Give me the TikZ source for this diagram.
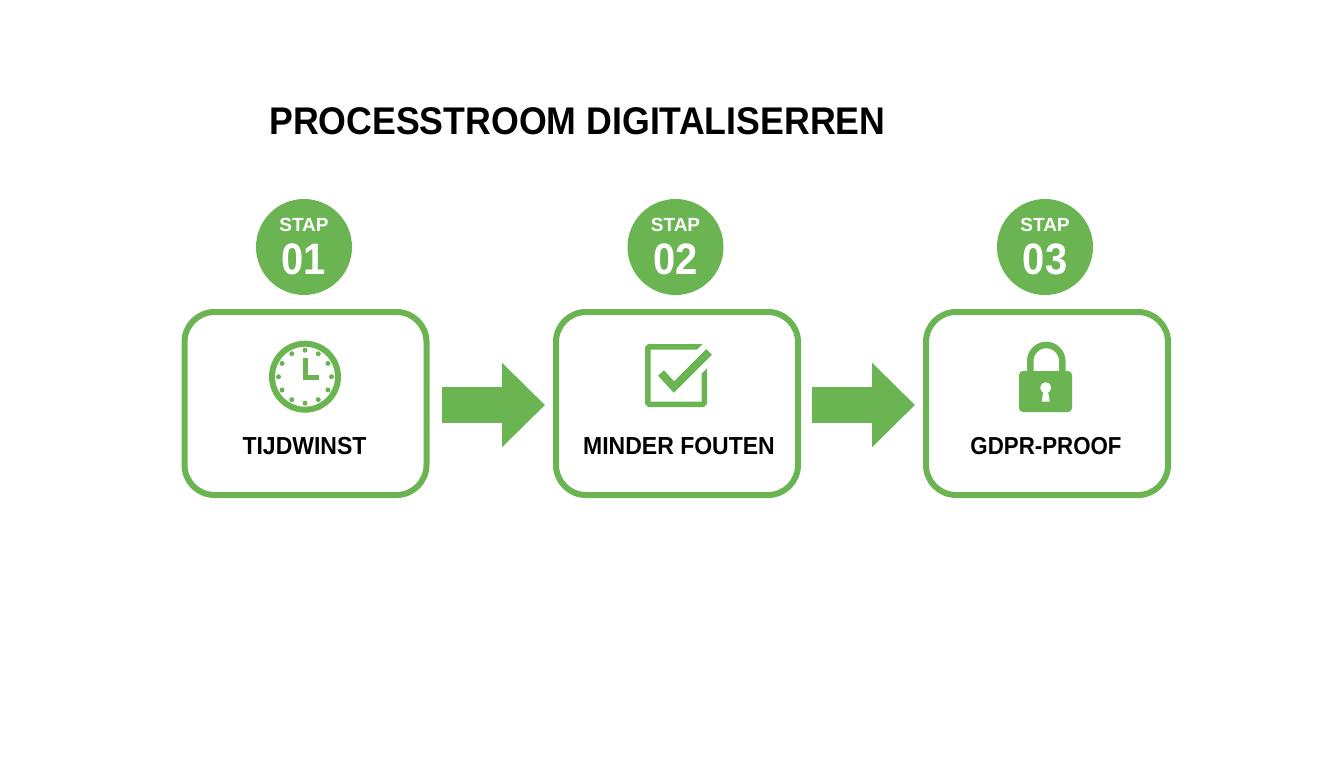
\documentclass[tikz,border=0pt]{standalone}
\usepackage{fontspec}
\setmainfont{Liberation Sans}
\usetikzlibrary{arrows.meta}
\definecolor{grn}{HTML}{6AB552}
\newcommand{\tall}[2]{\scalebox{1}[#1]{#2}}
\tikzset{
  x=1pt,y=-1pt,
  card/.style={draw=grn,line width=6pt,rounded corners=30pt,minimum width=242pt,minimum height=183pt,inner sep=0pt,fill=white},
  badge/.style={circle,fill=grn,minimum size=96pt,inner sep=0pt},
  flow/.style={draw=grn,line width=36pt,-{Triangle[length=43pt,width=82pt]},shorten >=8pt},
  stapt/.style={text=white,font=\bfseries\fontsize{19}{19}\selectfont,inner sep=0pt},
  numt/.style={text=white,font=\bfseries\fontsize{40}{40}\selectfont,inner sep=0pt},
  lab/.style={text=black,font=\bfseries\fontsize{23}{23}\selectfont,inner sep=0pt},
  titlet/.style={text=black,font=\bfseries\fontsize{35.7}{36}\selectfont,inner sep=0pt,anchor=west},
}
\begin{document}
\begin{tikzpicture}
\useasboundingbox (0,0) rectangle (1344,768);
\node[titlet] (title) at (269,121) {\tall{1.08}{PROCESSTROOM DIGITALISERREN}};
\node[card] (box1) at (305.5,403.5) {};
\node[card] (box2) at (677,403.5) {};
\node[card] (box3) at (1047,403.5) {};
\node[badge] (c1) at (304,247) {};
\node[badge] (c2) at (675.5,247) {};
\node[badge] (c3) at (1045,247) {};
\foreach \i/\n in {1/01,2/02,3/03}{
  \node[stapt] (s\i) at ([yshift=21.7pt]c\i.center) {STAP};
  \node[numt] (n\i) at ([yshift=-12.5pt]c\i.center) {\tall{1.1}{\n}};
}
\node[lab] (l1) at (304.5,446) {\tall{1.07}{TIJDWINST}};
\node[lab] (l2) at (679,446) {\tall{1.07}{MINDER FOUTEN}};
\node[lab,font=\bfseries\fontsize{22.3}{23}\selectfont] (l3) at (1046,446) {\tall{1.1}{GDPR-PROOF}};
\draw[flow,shorten <=12.5pt] ([yshift=-1.5pt]box1.east) -- ([yshift=-1.5pt]box2.west);
\draw[flow,shorten <=11pt] ([yshift=-1.5pt]box2.east) -- ([yshift=-1.5pt]box3.west);
% clock
\draw[grn,line width=6pt] (305,376.7) circle (33);
\foreach \a in {0,30,...,330}
  \fill[grn] (305,376.7) ++(\a:26.5) circle (2.5);
\draw[grn,line width=5pt] (305.5,358) -- (305.5,377) -- (319,377);
% check box
\draw[grn,line width=5.5pt,rounded corners=1.5pt] (704.25,360) -- (704.25,404.25) -- (647.75,404.25) -- (647.75,346.75) -- (705,346.75);
\draw[white,line width=20pt] (674,387) -- (725,336);
\draw[grn,line width=8pt] (661,373) -- (674,387) -- (709,352);
% lock
\draw[grn,line width=6.5pt] (1030.25,375) -- (1030.25,361) arc (180:360:16) -- (1062.25,375);
\fill[grn,rounded corners=4pt] (1019,371) rectangle (1072,412);
\fill[white] (1045.7,387.7) circle (5.5);
\fill[white] (1043.7,389) -- (1047.7,389) -- (1049.7,401.7) -- (1041.7,401.7) -- cycle;
\end{tikzpicture}
\end{document}
